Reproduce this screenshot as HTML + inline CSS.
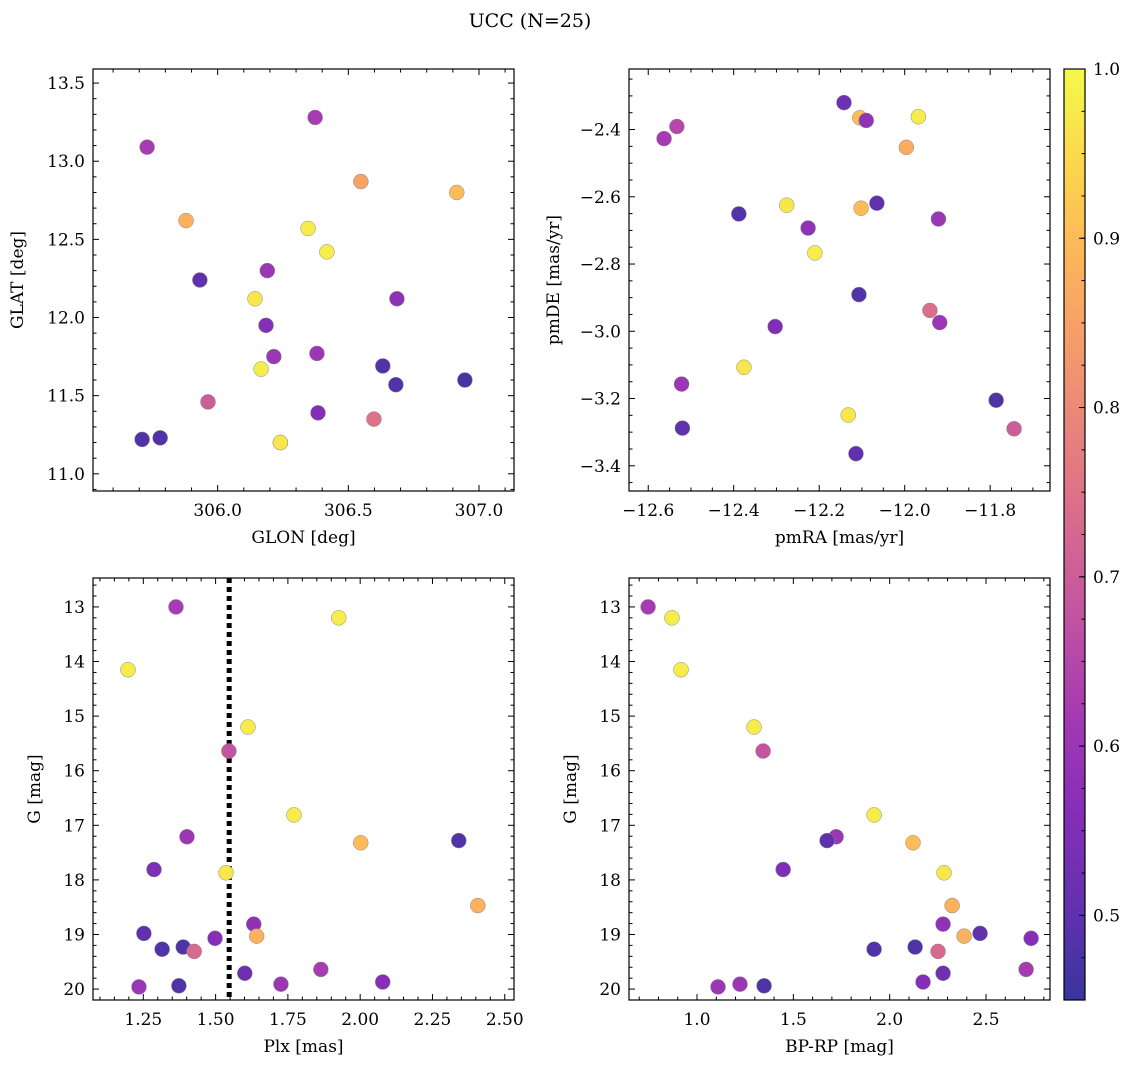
<!DOCTYPE html>
<html><head><meta charset="utf-8">
<style>
html,body{margin:0;padding:0;background:#fff;}
svg{display:block;font-family:"DejaVu Serif","Liberation Serif",serif;}
</style></head>
<body>
<svg id="fig" width="1136" height="1068" viewBox="0 0 1136 1068" xmlns="http://www.w3.org/2000/svg">
<text x="530" y="27" font-size="19" text-anchor="middle">UCC (N=25)</text>
</svg>
<script>
// Panel 1: GLON vs GLAT
const glon1 = [305.73,306.373,305.879,306.548,306.915,306.346,306.418,305.932,306.19,306.143,306.686,306.185,306.215,306.38,306.166,306.632,306.682,306.946,305.963,306.384,306.598,305.711,305.78,306.24,306.24];
const glat1 = [13.09,13.28,12.62,12.87,12.80,12.57,12.42,12.24,12.30,12.12,12.12,11.95,11.75,11.77,11.67,11.69,11.57,11.60,11.46,11.39,11.35,11.22,11.23,11.20,11.20];
const prob1 = [0.62,0.62,0.88,0.85,0.9,0.98,0.98,0.5,0.6,0.97,0.58,0.56,0.6,0.6,0.98,0.48,0.48,0.47,0.7,0.56,0.75,0.48,0.48,0.9,0.97];
// Panel 2: pmRA vs pmDE
const pmra2 = [-12.563,-12.533,-12.142,-12.105,-12.09,-11.968,-11.996,-12.388,-12.276,-12.102,-12.065,-12.226,-11.921,-12.21,-12.107,-11.941,-11.918,-12.303,-12.376,-12.522,-12.132,-11.786,-12.52,-11.744,-12.114];
const pmde2 = [-2.427,-2.391,-2.32,-2.365,-2.373,-2.362,-2.453,-2.651,-2.625,-2.634,-2.619,-2.693,-2.666,-2.767,-2.891,-2.938,-2.974,-2.986,-3.107,-3.157,-3.249,-3.205,-3.288,-3.29,-3.364];
const prob2 = [0.62,0.65,0.52,0.9,0.58,0.98,0.87,0.48,0.97,0.9,0.5,0.58,0.6,0.98,0.48,0.74,0.6,0.55,0.97,0.6,0.97,0.48,0.5,0.7,0.5];
// Panel 3: Plx vs G
const plx3 = [1.363,1.926,1.197,1.612,1.546,1.771,1.401,2.002,2.341,1.287,1.536,2.407,1.632,1.252,1.642,1.498,1.388,1.315,1.426,1.864,1.601,1.726,2.078,1.235,1.373];
const g3 = [13.0,13.2,14.15,15.2,15.64,16.81,17.21,17.32,17.28,17.81,17.87,18.47,18.81,18.98,19.03,19.07,19.23,19.27,19.31,19.64,19.71,19.91,19.87,19.96,19.94];
const prob3 = [0.62,0.98,0.98,0.98,0.68,0.98,0.6,0.9,0.48,0.55,0.97,0.88,0.58,0.5,0.88,0.56,0.48,0.48,0.73,0.62,0.52,0.6,0.56,0.6,0.48];
const plxLine = 1.547;
// Panel 4: BP-RP vs G
const bprp4 = [0.746,0.870,0.917,1.296,1.343,1.919,1.722,1.675,2.121,1.447,2.282,2.324,2.277,2.469,2.386,2.734,2.132,1.919,2.251,2.708,2.277,1.223,2.173,1.109,1.348];
const g4 = [13.0,13.2,14.15,15.2,15.64,16.81,17.21,17.28,17.32,17.81,17.87,18.47,18.81,18.98,19.03,19.07,19.23,19.27,19.31,19.64,19.71,19.91,19.87,19.96,19.94];
const prob4 = [0.62,0.98,0.98,0.98,0.68,0.98,0.6,0.5,0.9,0.55,0.97,0.88,0.58,0.5,0.88,0.56,0.48,0.48,0.73,0.62,0.52,0.6,0.56,0.6,0.48];
// Colorbar ticks
const cbarTicks = [0.5,0.6,0.7,0.8,0.9,1.0];
const cbarMin = 0.45, cbarMax = 1.0;

const NS = "http://www.w3.org/2000/svg";
const svg = document.getElementById('fig');
function mk(tag, attrs, parent){const e=document.createElementNS(NS,tag);for(const k in attrs)e.setAttribute(k,attrs[k]);(parent||svg).appendChild(e);return e;}

const plasma=[[13,8,135],[65,4,157],[106,0,168],[143,13,164],[177,42,144],[204,71,120],[225,100,98],[242,132,75],[252,166,54],[252,206,37],[240,249,33]];
function cmap(v){let t=(v-cbarMin)/(cbarMax-cbarMin);t=Math.max(0,Math.min(1,t))*10;const i=Math.min(9,Math.floor(t)),f=t-i;const a=plasma[i],b=plasma[i+1];
 const c=[0,1,2].map(k=>Math.round((a[k]+(b[k]-a[k])*f)*0.82+255*0.18));return `rgb(${c[0]},${c[1]},${c[2]})`;}

function fmt(v,d){const s=v.toFixed(d);return s.replace('-','\u2212');}

function panel(cfg){
 const {L,T,R,B,xmin,xmax,ymin,ymax,invert}=cfg;
 const X=v=>L+(v-xmin)/(xmax-xmin)*(R-L);
 const Y=v=>invert? T+(v-ymin)/(ymax-ymin)*(B-T) : B-(v-ymin)/(ymax-ymin)*(B-T);
 const g=mk('g',{});
 
 
 // ticks
 const eps=1e-9;
 for(let v=Math.ceil(xmin/cfg.xminor-eps)*cfg.xminor; v<=xmax+eps; v+=cfg.xminor){
   const isMaj=Math.abs(v/cfg.xmajor-Math.round(v/cfg.xmajor))<1e-6; const len=isMaj?6:3.5; const x=X(v);
   mk('line',{x1:x,x2:x,y1:B,y2:B-len,stroke:'#000','stroke-width':1},g);
   mk('line',{x1:x,x2:x,y1:T,y2:T+len,stroke:'#000','stroke-width':1},g);
   if(isMaj){const t=mk('text',{x:x,y:B+25,'font-size':17,'text-anchor':'middle'},g);t.textContent=fmt(v,cfg.xdec);
     
     }
 }
 for(let v=Math.ceil(Math.min(ymin,ymax)/cfg.yminor-eps)*cfg.yminor; v<=Math.max(ymin,ymax)+eps; v+=cfg.yminor){
   const isMaj=Math.abs(v/cfg.ymajor-Math.round(v/cfg.ymajor))<1e-6; const len=isMaj?6:3.5; const y=Y(v);
   mk('line',{x1:L,x2:L+len,y1:y,y2:y,stroke:'#000','stroke-width':1},g);
   mk('line',{x1:R,x2:R-len,y1:y,y2:y,stroke:'#000','stroke-width':1},g);
   if(isMaj){const t=mk('text',{x:L-8,y:y+6,'font-size':17,'text-anchor':'end'},g);t.textContent=fmt(v,cfg.ydec);
     
     }
 }
 if(cfg.vline!==undefined){const l=mk('line',{x1:X(cfg.vline),x2:X(cfg.vline),y1:T,y2:B,stroke:'#000','stroke-width':5,'stroke-dasharray':'5 4'},g);
   
   }
 for(let i=0;i<cfg.xs.length;i++){
   const c=mk('circle',{cx:X(cfg.xs[i]),cy:Y(cfg.ys[i]),r:7.5,fill:cmap(cfg.cs[i]),stroke:'#8a8a8a','stroke-width':0.5},g);
   
   
 }
 mk('rect',{x:L,y:T,width:R-L,height:B-T,fill:'none',stroke:'#000','stroke-width':1.2},g);
 const xl=mk('text',{x:(L+R)/2,y:B+52,'font-size':17,'text-anchor':'middle'},g);xl.textContent=cfg.xlabel;
 
 
 const yx=cfg.ylx, yy=(T+B)/2;
 const yl=mk('text',{x:yx,y:yy,'font-size':17,'text-anchor':'middle',transform:`rotate(-90 ${yx} ${yy})`},g);yl.textContent=cfg.ylabel;
 
 
}

panel({name:'glon-glat-panel',L:93,T:69,R:514,B:491,xmin:305.523,xmax:307.134,ymin:10.89,ymax:13.59,xmajor:0.5,xminor:0.1,ymajor:0.5,yminor:0.1,xdec:1,ydec:1,xs:glon1,ys:glat1,cs:prob1,xlabel:'GLON [deg]',ylabel:'GLAT [deg]',ylx:23});
panel({name:'pm-panel',L:629,T:69,R:1050,B:491,xmin:-12.645,xmax:-11.66,ymin:-3.475,ymax:-2.22,xmajor:0.2,xminor:0.05,ymajor:0.2,yminor:0.05,xdec:1,ydec:1,xs:pmra2,ys:pmde2,cs:prob2,xlabel:'pmRA [mas/yr]',ylabel:'pmDE [mas/yr]',ylx:559});
panel({name:'plx-g-panel',L:93,T:578,R:514,B:1000,xmin:1.076,xmax:2.532,ymin:12.47,ymax:20.2,invert:true,xmajor:0.25,xminor:0.05,ymajor:1,yminor:0.2,xdec:2,ydec:0,xs:plx3,ys:g3,cs:prob3,vline:plxLine,xlabel:'Plx [mas]',ylabel:'G [mag]',ylx:40});
panel({name:'cmd-panel',L:629,T:578,R:1050,B:1000,xmin:0.647,xmax:2.832,ymin:12.47,ymax:20.2,invert:true,xmajor:0.5,xminor:0.1,ymajor:1,yminor:0.2,xdec:1,ydec:0,xs:bprp4,ys:g4,cs:prob4,xlabel:'BP-RP [mag]',ylabel:'G [mag]',ylx:576});

// colorbar
(function(){
 const L=1064,R=1085,T=69,B=1000;
 const g=mk('g',{});
 
 
 const defs=mk('defs',{},g);
 const lg=mk('linearGradient',{id:'cb',x1:0,y1:1,x2:0,y2:0},defs);
 for(let i=0;i<=20;i++){const v=cbarMin+(cbarMax-cbarMin)*i/20;mk('stop',{offset:i/20,'stop-color':cmap(v)},lg);}
 mk('rect',{x:L,y:T,width:R-L,height:B-T,fill:'url(#cb)',stroke:'#000','stroke-width':1.2},g);
 const Y=v=>B-(v-cbarMin)/(cbarMax-cbarMin)*(B-T);
 for(let v=0.45;v<=1.0001;v+=0.025){mk('line',{x1:R,x2:R-3.5,y1:Y(v),y2:Y(v),stroke:'#000','stroke-width':1},g);}
 cbarTicks.forEach(v=>{const y=Y(v);mk('line',{x1:R,x2:R-6,y1:y,y2:y,stroke:'#000','stroke-width':1},g);
   const t=mk('text',{x:R+8,y:y+6,'font-size':17},g);t.textContent=v.toFixed(1);
   
   });
})();
</script>
</body></html>
